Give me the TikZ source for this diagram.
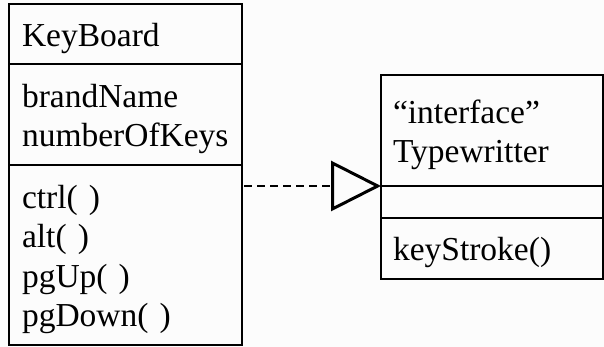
\documentclass[tikz,border=0pt]{standalone}
\usepackage{fontspec}
\setmainfont{Liberation Serif}
\usetikzlibrary{arrows.meta, positioning, calc}
\definecolor{PaperBg}{HTML}{FCFCFC}
\newcommand{\umlfont}{\fontsize{33.5}{39.5}\selectfont}
\tikzset{
  kbpart/.style={draw, line width=1.8pt, text width=207pt, inner xsep=13pt,
    inner ysep=0pt, outer sep=0pt, align=left, font=\umlfont,
    execute at begin node={\rule{0pt}{32pt}}},
  twpart/.style={draw, line width=1.8pt, text width=198pt, inner xsep=12pt,
    inner ysep=0pt, outer sep=0pt, align=left, font=\umlfont,
    execute at begin node={\rule{0pt}{32pt}}},
  realize/.style={dash pattern=on 8pt off 5pt, line width=1.3pt,
    -{Triangle[open, length=50pt, width=50pt, line width=3pt]}},
}

\begin{document}
\begin{tikzpicture}[x=1pt, y=1pt, node distance=0pt]
    \fill[PaperBg] (0,0) rectangle (604,347);
    \useasboundingbox (0,0) rectangle (604,347);
    % class KeyBoard
    \node[kbpart, minimum height=60pt, anchor=north west] (kbhead) at (9,343) {KeyBoard};
    \node[kbpart, minimum height=101pt, below=of kbhead] (kbattr) {brandName\\numberOfKeys};
    \node[kbpart, minimum height=180pt, below=of kbattr] (kbops) {ctrl( )\\alt( )\\pgUp( )\\pgDown( )};
    % interface Typewritter
    \node[twpart, minimum height=111pt, anchor=north west] (twhead) at (381,272) {“interface”\\Typewritter};
    \node[twpart, minimum height=29pt, below=of twhead] (twattr) {};
    \node[twpart, minimum height=61pt, below=of twattr] (twops) {keyStroke()};
    \coordinate (kbside) at ($(kbops.east |- twhead.south west) + (2,0)$);
    \draw[realize] (kbside) -- (twhead.south west);
  \end{tikzpicture}
\end{document}
